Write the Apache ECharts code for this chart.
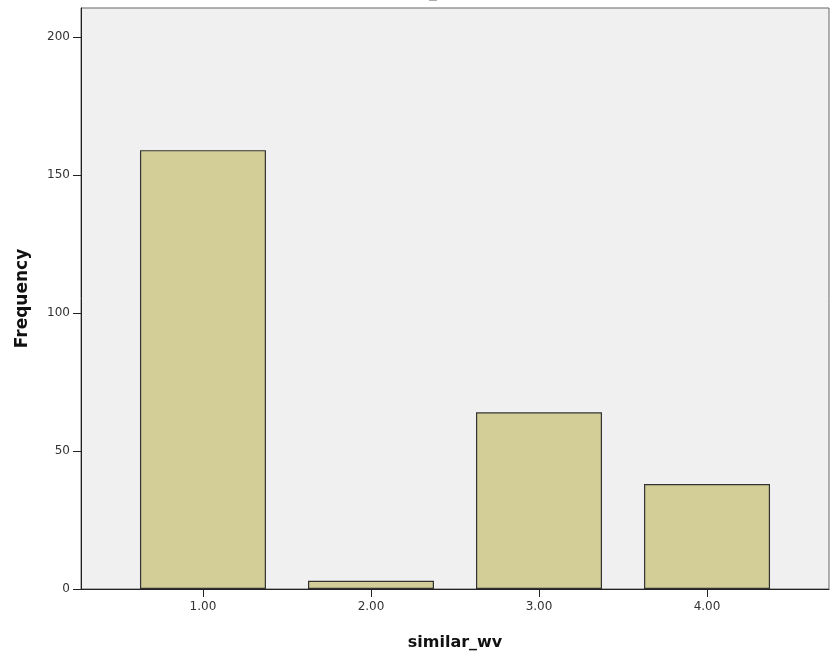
<!DOCTYPE html>
<html>
<head>
<meta charset="utf-8">
<script src="https://cdn.jsdelivr.net/npm/echarts@6/dist/echarts.min.js"></script>
<style>html,body{margin:0;padding:0;background:#fff}#c{width:830px;height:657px}</style>
</head>
<body>
<div id="c"></div>
<script>
const categories = [1, 2, 3, 4];
const frequencies = [159, 3, 64, 38];
const yTicks = [0, 50, 100, 150, 200];
const titleText = 'similar_wv';

const chart = echarts.init(document.getElementById('c'), null, {renderer: 'canvas'});
const font = 'DejaVu Sans, Arial, sans-serif';
chart.setOption({
  animation: false,
  backgroundColor: '#ffffff',
  title: {
    text: titleText, left: 'center', top: -20,
    textStyle: {fontFamily: font, fontSize: 16, fontWeight: 'bold', color: '#000'}
  },
  grid: {
    left: 81, right: 1, top: 8, bottom: 68,
    show: true, backgroundColor: '#f0f0f0', borderColor: '#666', borderWidth: 1
  },
  xAxis: {
    type: 'value', min: 0.274, max: 4.726,
    name: 'similar_wv', nameLocation: 'middle', nameGap: 46,
    nameTextStyle: {fontFamily: font, fontSize: 16, fontWeight: 'bold', color: '#111'},
    axisLine: {show: true, onZero: false, lineStyle: {color: '#222', width: 1}},
    axisTick: {show: true, length: 8, customValues: categories, lineStyle: {color: '#222'}},
    axisLabel: {customValues: categories, formatter: v => v.toFixed(2), margin: 12,
      fontFamily: font, fontSize: 12, color: '#333'},
    splitLine: {show: false}
  },
  yAxis: {
    type: 'value', min: 0, max: 210.5,
    name: 'Frequency', nameLocation: 'middle', nameGap: 50, nameRotate: 90,
    nameTextStyle: {fontFamily: font, fontSize: 17, fontWeight: 'bold', color: '#111'},
    axisLine: {show: true, lineStyle: {color: '#222', width: 1}},
    axisTick: {show: true, length: 8, customValues: yTicks, lineStyle: {color: '#222'}},
    axisLabel: {customValues: yTicks, margin: 11, fontFamily: font, fontSize: 12, color: '#333'},
    splitLine: {show: false}
  },
  series: [{
    type: 'bar',
    data: categories.map((c, i) => [c, frequencies[i]]),
    barWidth: 126,
    itemStyle: {color: '#d3ce97', borderColor: '#333', borderWidth: 1.2}
  }]
});
</script>
</body>
</html>
